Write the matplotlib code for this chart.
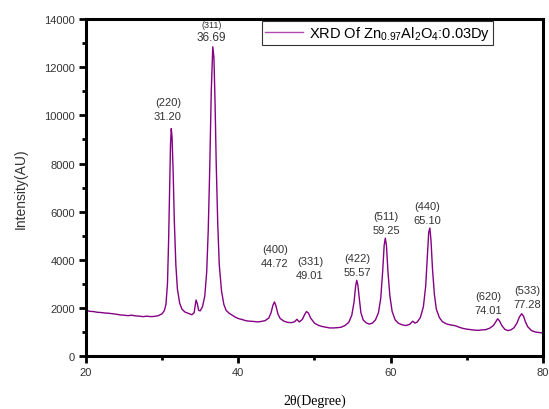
"""XRD pattern of Zn0.97Al2O4:0.03Dy."""
import matplotlib
matplotlib.use("Agg")
import matplotlib.pyplot as plt
from matplotlib.ticker import MultipleLocator

plt.rcParams["font.family"] = ["Liberation Sans", "DejaVu Sans"]
plt.rcParams["mathtext.default"] = "regular"

two_theta = [
    20.0, 20.5, 21.0, 21.5, 22.0, 22.5, 23.0, 23.5, 24.0, 24.5, 25.0, 25.5,
    26.0, 26.5, 27.0, 27.5, 28.0, 28.5, 29.0, 29.5, 30.0, 30.3, 30.5, 30.7,
    30.85, 31.0, 31.1, 31.2, 31.3, 31.45, 31.6, 31.8, 32.0, 32.3, 32.6, 33.0,
    33.5, 33.9, 34.2, 34.45, 34.6, 34.8, 35.0, 35.3, 35.6, 35.85, 36.05, 36.25,
    36.45, 36.65, 36.8, 36.95, 37.1, 37.3, 37.5, 37.8, 38.1, 38.4, 38.8, 39.2,
    39.6, 40.0, 40.5, 41.0, 41.5, 42.0, 42.5, 43.0, 43.5, 44.0, 44.3, 44.55,
    44.75, 44.95, 45.2, 45.5, 46.0, 46.5, 47.0, 47.4, 47.7, 48.0, 48.4, 48.7,
    48.95, 49.2, 49.5, 50.0, 50.5, 51.0, 51.5, 52.0, 52.5, 53.0, 53.5, 54.0,
    54.5, 54.9, 55.2, 55.4, 55.55, 55.7, 55.9, 56.1, 56.4, 56.8, 57.2, 57.6,
    58.0, 58.4, 58.7, 58.95, 59.15, 59.3, 59.45, 59.65, 59.9, 60.2, 60.6, 61.0,
    61.5, 62.0, 62.5, 62.9, 63.2, 63.5, 63.9, 64.3, 64.6, 64.85, 65.0, 65.15,
    65.3, 65.5, 65.75, 66.0, 66.4, 66.8, 67.3, 67.8, 68.2, 68.6, 69.0, 69.5,
    70.0, 70.5, 71.0, 71.5, 72.0, 72.5, 73.0, 73.5, 73.8, 74.05, 74.3, 74.6,
    75.0, 75.4, 75.8, 76.2, 76.6, 76.9, 77.2, 77.45, 77.7, 78.0, 78.5, 79.0,
    79.5, 80.0,
]
intensity = [
    1900, 1860, 1850, 1820, 1810, 1790, 1780, 1760, 1740, 1710, 1700, 1680,
    1700, 1670, 1660, 1640, 1660, 1640, 1650, 1680, 1760, 1900, 2150, 3000,
    4800, 7200, 8800, 9450, 9100, 7600, 5600, 3800, 2800, 2200, 1950, 1830,
    1770, 1720, 1800, 2330, 2200, 1900, 1880, 2050, 2500, 3500, 5200, 7800,
    11000, 12850, 12400, 10500, 8000, 5500, 3800, 2700, 2150, 1900, 1780, 1700,
    1620, 1560, 1520, 1470, 1450, 1440, 1420, 1440, 1470, 1580, 1800, 2120,
    2250, 2080, 1750, 1560, 1450, 1400, 1390, 1430, 1530, 1420, 1520, 1720,
    1850, 1790, 1580, 1370, 1280, 1230, 1200, 1170, 1170, 1180, 1200, 1270,
    1400, 1700, 2250, 2900, 3150, 2950, 2350, 1800, 1500, 1380, 1330, 1370,
    1500, 1800, 2400, 3500, 4600, 4900, 4600, 3500, 2500, 1850, 1500, 1370,
    1300, 1270, 1320, 1450, 1370, 1420, 1600, 2050, 2900, 4300, 5150, 5320,
    4800, 3600, 2550, 1950, 1600, 1430, 1340, 1300, 1280, 1250, 1200, 1150,
    1120, 1100, 1080, 1070, 1090, 1100, 1160, 1270, 1420, 1550, 1460, 1270,
    1110, 1060, 1090, 1180, 1380, 1620, 1760, 1660, 1420, 1220, 1060, 1000,
    980, 960,
]

# peak annotations: (hkl, 2theta label, text x, text bottom y)
peak_hkl = ["(220)", "(311)", "(400)", "(331)", "(422)", "(511)", "(440)", "(620)", "(533)"]
peak_pos = ["31.20", "36.69", "44.72", "49.01", "55.57", "59.25", "65.10", "74.01", "77.28"]
label_x = [30.75, 36.5, 44.8, 49.4, 55.6, 59.4, 64.8, 72.8, 77.9]
label_y = [9750, 13000, 3650, 3150, 3300, 5050, 5450, 1700, 1950]

fig = plt.figure(figsize=(5.49, 4.10), dpi=100)
ax = fig.add_axes([0.1566, 0.129, 0.8324, 0.822])

ax.plot(two_theta, intensity, color="#850085", lw=1.0,
        label="XRD Of Zn$_{0.97}$Al$_2$O$_4$:0.03Dy")

for hkl, pos, x, y in zip(peak_hkl, peak_pos, label_x, label_y):
    small = hkl == "(311)"
    ax.text(x, y, pos, ha="center", va="bottom", fontsize=8.5 if small else 8,
            color="#333333")
    ax.text(x, y + 580, hkl, ha="center", va="bottom",
            fontsize=6.5 if small else 8, color="#333333")

ax.set_xlim(20, 80)
ax.set_ylim(0, 14000)
ax.xaxis.set_major_locator(MultipleLocator(20))
ax.xaxis.set_minor_locator(MultipleLocator(10))
ax.yaxis.set_major_locator(MultipleLocator(2000))
ax.yaxis.set_minor_locator(MultipleLocator(1000))
ax.tick_params(which="major", direction="out", length=5, width=2,
               labelsize=8, labelcolor="#333333", pad=3)
ax.tick_params(which="minor", direction="out", length=3, width=2)
for sp in ax.spines.values():
    sp.set_linewidth(2.2)

ax.set_ylabel("Intensity(AU)", fontsize=10, color="#333333", labelpad=12)
ax.set_xlabel("2θ(Degree)", fontsize=10, family=["Liberation Serif", "DejaVu Serif"],
              labelpad=12)

leg = ax.legend(loc="upper left", bbox_to_anchor=(0.385, 0.995), fontsize=10.5,
                frameon=True, fancybox=False, borderpad=0.2, handlelength=2.6,
                handletextpad=0.4, borderaxespad=0)
leg.get_frame().set_edgecolor("black")
leg.get_frame().set_linewidth(0.8)
leg.get_lines()[0].set_color("#b04ab0")

fig.savefig("out.png", dpi=100)
